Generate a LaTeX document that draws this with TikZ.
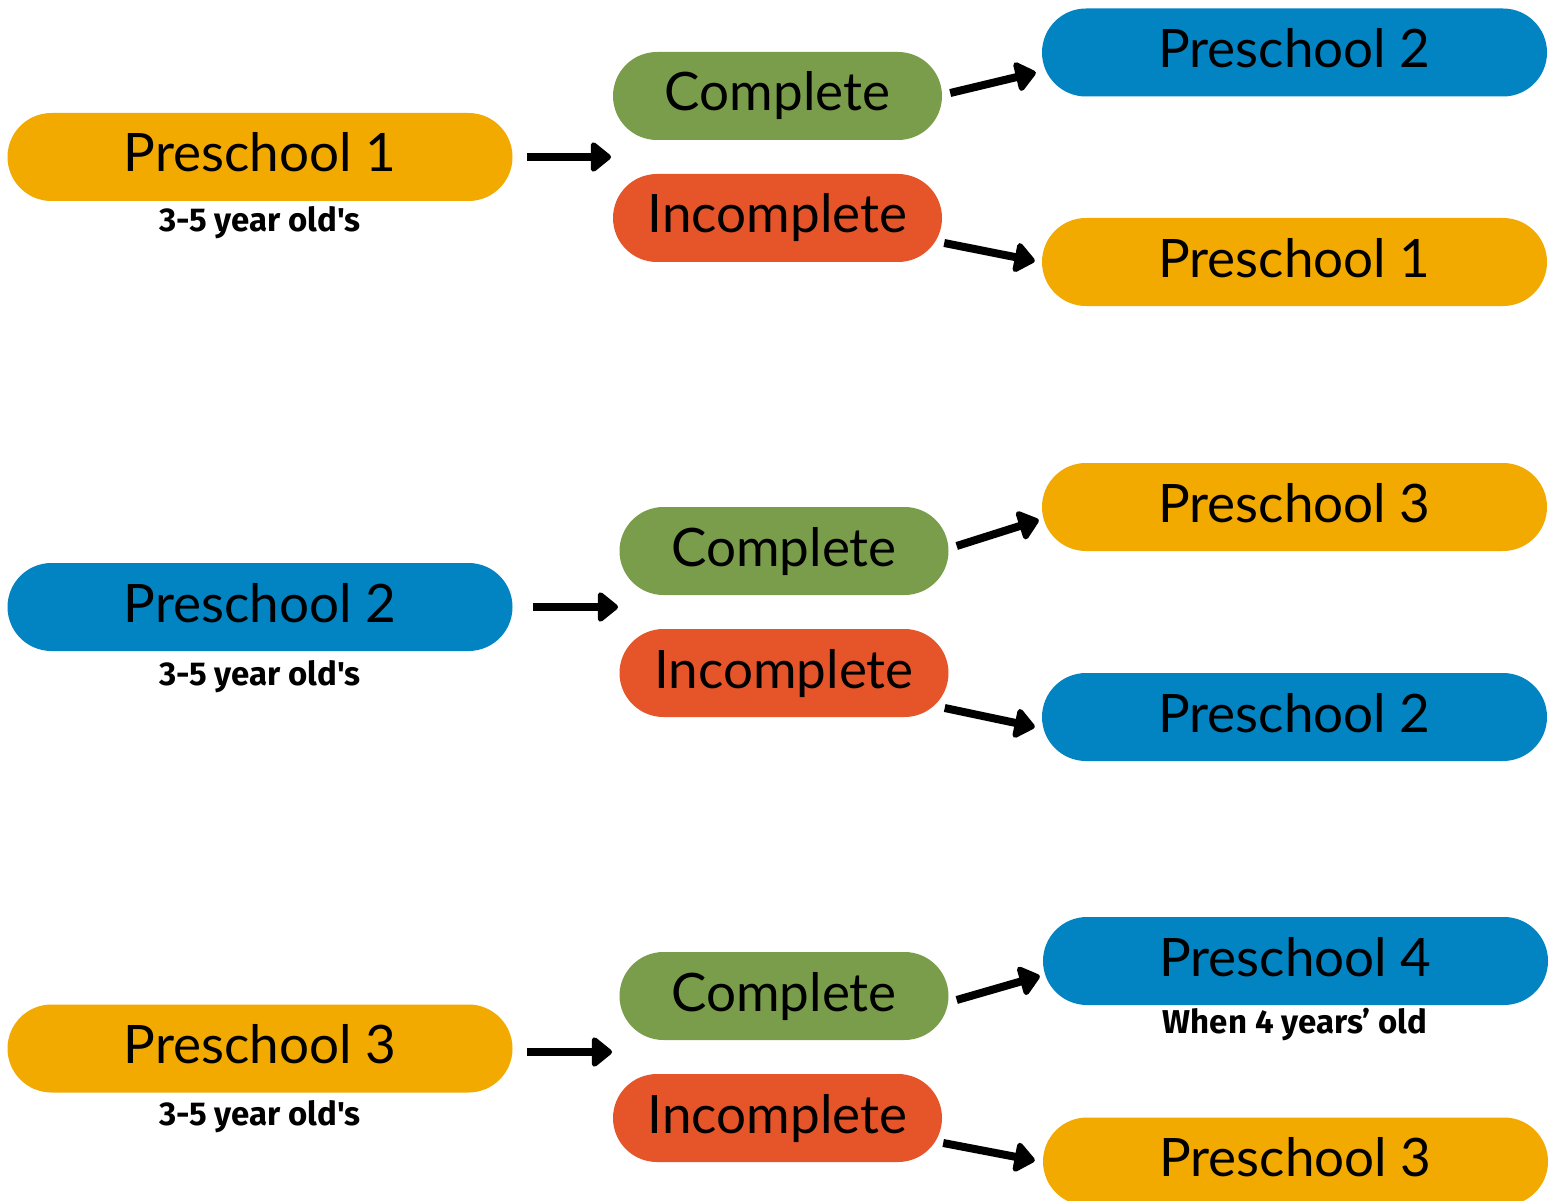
\documentclass[tikz,border=0pt]{standalone}
\usepackage{fontspec}
\setmainfont{Lato}
\newfontfamily\subfont{Fira Sans}
\usetikzlibrary{arrows.meta}
\definecolor{cyel}{RGB}{242,169,0}
\definecolor{cblue}{RGB}{2,132,194}
\definecolor{cgreen}{RGB}{122,157,75}
\definecolor{cred}{RGB}{229,85,41}
\tikzset{
  pill/.style={rectangle, rounded corners=44pt, minimum width=505pt, minimum height=88pt,
    inner sep=0pt, text=black, font=\fontsize{53}{53}\selectfont, text height=30pt, text depth=0pt},
  pillsmall/.style={pill, minimum width=329pt},
  yel/.style={fill=cyel}, blu/.style={fill=cblue}, grn/.style={fill=cgreen}, rdd/.style={fill=cred},
  subtxt/.style={font=\subfont\bfseries\fontsize{33}{33}\selectfont, inner sep=0pt, text height=23pt, text depth=0pt},
  arr/.style={line width=8pt, -{Triangle[round,length=22pt,width=34pt]}}
}
\begin{document}
\begin{tikzpicture}[x=1pt,y=-1pt]
\useasboundingbox[fill=white] (0,0) rectangle (1556,1201);
% Row 1
\node[pill,yel] (p1) at (260,157) {Preschool 1};
\node[subtxt] (s1) at (260,220.5) {3-5 year old's};
\coordinate (g1) at (611,157);
\node[pillsmall,grn] (c1) at (777.5,96) {Complete};
\node[pillsmall,rdd] (i1) at (777.5,218) {Incomplete};
\node[pill,blu] (t1) at (1294.5,52.5) {Preschool 2};
\node[pill,yel] (b1) at (1294.5,262) {Preschool 1};
\draw[arr] ([xshift=14]p1.east) -- (g1);
\draw[arr] ([shift={(8,-3)}]c1.east) -- ([shift={(-6,20)}]t1.west);
\draw[arr] ([shift={(2,25)}]i1.east) -- ([shift={(-7,-1)}]b1.west);
% Row 2
\node[pill,blu] (p2) at (260,607) {Preschool 2};
\node[subtxt] (s2) at (260,673.5) {3-5 year old's};
\coordinate (g2) at (618,607);
\node[pillsmall,grn] (c2) at (784,551) {Complete};
\node[pillsmall,rdd] (i2) at (784,673) {Incomplete};
\node[pill,yel] (t2) at (1294.5,507) {Preschool 3};
\node[pill,blu] (b2) at (1294.5,717) {Preschool 2};
\draw[arr] ([xshift=20]p2.east) -- (g2);
\draw[arr] ([shift={(8,-5)}]c2.east) -- ([shift={(-3,13)}]t2.west);
\draw[arr] ([shift={(-4,35)}]i2.east) -- ([shift={(-7,10)}]b2.west);
% Row 3
\node[pill,yel] (p3) at (260,1048.5) {Preschool 3};
\node[subtxt] (s3) at (260,1113.5) {3-5 year old's};
\coordinate (g3) at (612,1052);
\node[pillsmall,grn] (c3) at (784,996) {Complete};
\node[pillsmall,rdd] (i3) at (777.5,1118) {Incomplete};
\node[pill,blu] (t3) at (1295.5,961) {Preschool 4};
\node[subtxt] (s4) at (1295,1021.5) {When 4 years’ old};
\node[pill,yel] (b3) at (1295.5,1161.5) {Preschool 3};
\draw[arr] ([shift={(14,3.5)}]p3.east) -- (g3);
\draw[arr] ([shift={(8,4)}]c3.east) -- ([shift={(-3,15)}]t3.west);
\draw[arr] ([shift={(1,25)}]i3.east) -- ([shift={(-8,-1)}]b3.west);
\end{tikzpicture}
\end{document}
